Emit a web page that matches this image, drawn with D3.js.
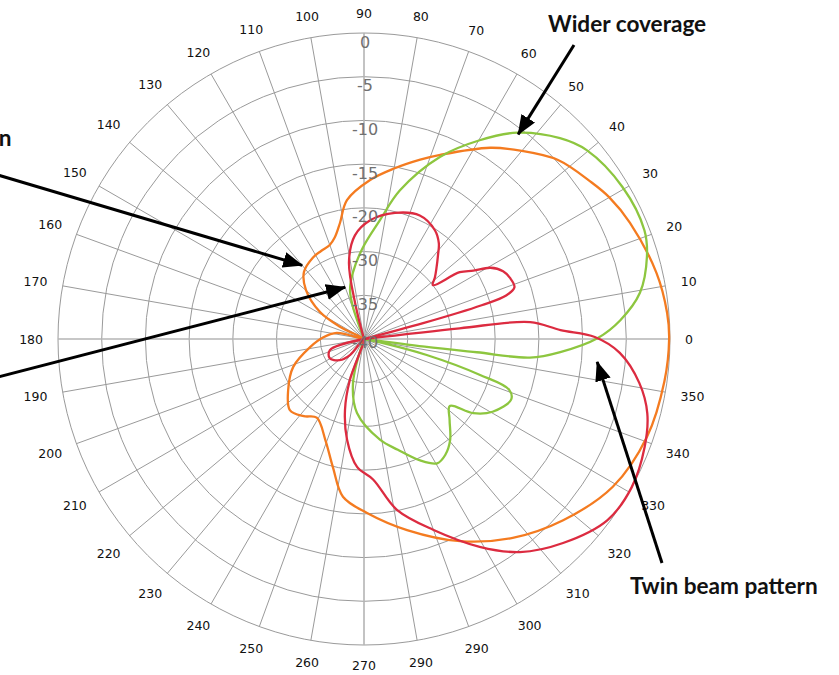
<!DOCTYPE html>
<meta charset="utf-8">
<script src="https://d3js.org/d3.v7.min.js"></script>
<style>
  body { margin: 0; background: #fff; }
  .grid { fill: none; stroke: #9a9a9a; stroke-width: 1px; }
  .axis { stroke: #b4b4b4; stroke-width: 1.6px; }
  .rlabel { font-family: "DejaVu Sans", sans-serif; font-size: 16px; fill: #707070; }
  .alabel { font-family: "DejaVu Sans", sans-serif; font-size: 12.5px; fill: #111; }
  .note { font-family: Lato, "Open Sans", sans-serif; font-weight: bold; font-size: 22.6px; fill: #111; }
  .curve { fill: none; stroke-width: 2.3px; stroke-linejoin: round; }
</style>
<body>
<div id="chart"></div>
<script>
// ring labels, outer ring first (the picture skips -25)
var ringLabels = ["0", "-5", "-10", "-15", "-20", "-30", "-35", "-40"];
// angle labels every 10 degrees, counter-clockwise from 0 (the picture reads 290 at 280)
var angleLabels = ["0", "10", "20", "30", "40", "50", "60", "70", "80", "90",
  "100", "110", "120", "130", "140", "150", "160", "170", "180",
  "190", "200", "210", "220", "230", "240", "250", "260", "270",
  "290", "290", "300", "310", "320", "330", "340", "350"];

// [angle in degrees, level in dB]
var orangeSeries = [[0, -0.1], [4.9, -0.2], [12.7, -0.7], [23.6, -1.8], [30, -2.6], [34.5, -3.4],
  [42.7, -4.8], [50.3, -7], [56.6, -8.8], [67.5, -12.2], [72.6, -13.5], [80, -15.2],
  [87.8, -16.8], [97, -19], [101.7, -22.9], [106, -25.8], [110, -27.1], [116, -27.6],
  [122, -28], [131.8, -29.4], [139.8, -31.3], [148.5, -34.1], [153, -36.9], [160, -40],
  [167.5, -36.8], [178, -35.3], [188.4, -33.8], [201.5, -31.3], [213.9, -29.1],
  [223.8, -26.5], [232, -27.6], [239, -29], [249, -25.3], [256.4, -19.9], [262.4, -16.8],
  [271, -15.1], [282.7, -12.6], [295.4, -9.4], [306.8, -6.6], [317.7, -4.2], [329.3, -1.9],
  [341, -0.75], [352, -0.3]];

var greenSeries = [[0.2, -8.3], [4.2, -5.6], [9.5, -3], [16.2, -1.3], [21.2, -0.6], [30.4, -0.7],
  [40.3, -1.6], [45.7, -2.9], [53.4, -5.6], [59.8, -8.7], [67.3, -12.4], [76.4, -17.5],
  [82.3, -22.5], [90.6, -29], [99.5, -32.3], [106, -34.2], [109, -36.1], [115, -40],
  [250, -40], [256, -34.8], [264.6, -31.5], [279, -26.7], [287, -23.5], [294.8, -19.7],
  [300.5, -18.5], [305, -18.8], [310.4, -19.8], [316.7, -23.1], [322, -25.1], [325.8, -19.9],
  [330.5, -18.1], [337.6, -16.8], [340.7, -17.4], [342.8, -22.2], [345.7, -32.6],
  [348.5, -38.5], [350.5, -40], [352.8, -33], [353.3, -24], [353.6, -15.9], [356.2, -12.5]];

var redSeries = [[0.5, -8.6], [2.6, -12.5], [5.8, -15.9], [6.4, -28], [7.5, -40], [13, -40],
  [15, -33], [16, -22], [17, -18], [19, -16.8], [22.7, -16.9], [26, -17.3], [29.4, -18.4],
  [32, -20.5], [34.9, -23.3], [38, -30], [41, -28.5], [44, -27], [48.6, -24.4], [52, -22.2],
  [56.9, -20.3], [65.7, -19.5], [76.2, -20.3], [87, -22.8], [95, -26.2], [101, -31],
  [104, -36], [107, -40], [188, -40], [198, -35.9], [209, -35.5], [221, -36.3], [229, -37.6],
  [238, -40], [251, -35], [255, -31.6], [260.4, -26.7], [266.9, -20.7], [273.7, -18.9],
  [280.9, -15.1], [289.9, -11.8], [299.1, -7.8], [306.2, -4.8], [314.3, -2.4], [323.3, -0.3],
  [331, 0], [338.9, -0.6], [345.3, -1.5], [350.9, -3.1], [356.9, -5.7]];

var seriesColors = ["#f47b20", "#8dc63f", "#dc2b40"];

// call-outs: text, text anchor, text x/y, arrow tail x/y, arrow tip as [angle, dB]
var notes = [
  {text: "Wider coverage", anchor: "start", x: 548, y: 32, tail: [574, 45], tip: [53, -5.7]},
  {text: "Twin beam pattern", anchor: "start", x: 630, y: 594, tail: [662, 563], tip: [354.4, -8.2]},
  {text: "Single beam pattern", anchor: "end", x: 11.5, y: 146, tail: [-2, 175], tip: [130, -28]},
  {text: "", anchor: "end", x: 0, y: 0, tail: [-2, 377], tip: [110, -33.7]}
];

var width = 839, height = 675,
    cx = 364, cy = 339, R = 306;

var svg = d3.select("#chart").append("svg")
  .attr("width", width)
  .attr("height", height);

// marker for arrows
svg.append("defs").append("marker")
  .attr("id", "head")
  .attr("markerUnits", "userSpaceOnUse")
  .attr("viewBox", "0 0 20 16")
  .attr("refX", 19).attr("refY", 8)
  .attr("markerWidth", 20).attr("markerHeight", 16)
  .attr("orient", "auto")
  .append("path")
  .attr("d", "M0,0 L20,8 L0,16 Z")
  .attr("fill", "#000");

var g = svg.append("g").attr("transform", "translate(" + cx + "," + cy + ")");

// radial scale: rings are evenly spaced, labelled with the picture's values
var ringValues = ringLabels.map(Number).reverse();
var r = d3.scaleLinear()
  .domain(ringValues)
  .range(ringValues.map(function(d, i) { return i * R / (ringValues.length - 1); }));

var rad = function(a) { return a * Math.PI / 180; };

// rings
g.append("g").selectAll("circle")
  .data(ringValues.filter(function(d) { return r(d) > 0; }))
  .enter().append("circle")
  .attr("class", "grid")
  .attr("r", function(d) { return r(d); });

// spokes
g.append("g").selectAll("line")
  .data(angleLabels.map(function(d, i) { return i * 10; }))
  .enter().append("line")
  .attr("class", function(a) { return a % 90 == 0 ? "axis" : "grid"; })
  .attr("x1", 0).attr("y1", 0)
  .attr("x2", function(a) { return R * Math.cos(rad(a)); })
  .attr("y2", function(a) { return -R * Math.sin(rad(a)); });

// angle labels
g.append("g").selectAll("text")
  .data(angleLabels)
  .enter().append("text")
  .attr("class", "alabel")
  .attr("text-anchor", "middle")
  .attr("dominant-baseline", "central")
  .text(function(d) { return d; })
  .each(function(d, i) {
    var a = rad(i * 10),
        w = this.getComputedTextLength(),
        off = R + 15 + Math.abs(Math.cos(a)) * w / 2 + Math.abs(Math.sin(a)) * 5;
    d3.select(this)
      .attr("x", off * Math.cos(a))
      .attr("y", -off * Math.sin(a));
  });

// curves
var line = d3.lineRadial()
  .angle(function(d) { return rad(90 - d[0]); })
  .radius(function(d) { return r(d[1]); })
  .curve(d3.curveCatmullRomClosed.alpha(0.5));

g.append("g").selectAll("path")
  .data([orangeSeries, greenSeries, redSeries])
  .enter().append("path")
  .attr("class", "curve")
  .attr("stroke", function(d, i) { return seriesColors[i]; })
  .attr("d", line);

// ring labels on the vertical axis
g.append("g").selectAll("text")
  .data(ringLabels)
  .enter().append("text")
  .attr("class", "rlabel")
  .attr("text-anchor", "middle")
  .attr("dominant-baseline", "central")
  .attr("x", 1)
  .attr("y", function(d) { return -r(+d) + (r(+d) > 0 ? 9 : 3); })
  .text(function(d) { return d; });

// call-outs
notes.forEach(function(n) {
  var a = rad(n.tip[0]), rr = r(n.tip[1]);
  svg.append("line")
    .attr("x1", n.tail[0]).attr("y1", n.tail[1])
    .attr("x2", cx + rr * Math.cos(a))
    .attr("y2", cy - rr * Math.sin(a))
    .attr("stroke", "#000")
    .attr("stroke-width", 3)
    .attr("marker-end", "url(#head)");
  if (n.text) {
    svg.append("text")
      .attr("class", "note")
      .attr("text-anchor", n.anchor)
      .attr("x", n.x).attr("y", n.y)
      .text(n.text);
  }
});
</script>
</body>
